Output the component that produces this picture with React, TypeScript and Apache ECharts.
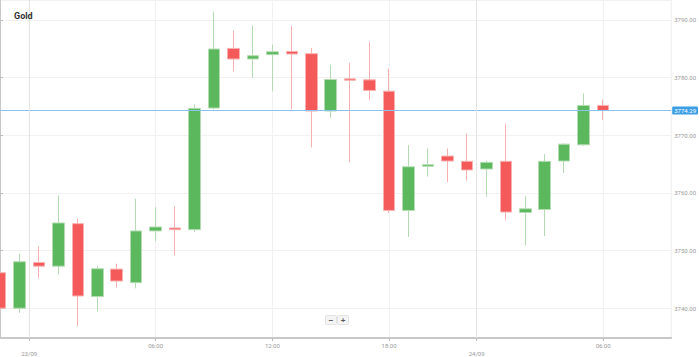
import React, { useEffect, useRef } from "react";
import * as echarts from "echarts";

// Hourly candles (index = slot on the time axis)
const opens = [3746.15, 3740.0, 3747.93, 3747.29, 3754.66, 3742.02, 3746.78, 3744.43, 3753.4, 3753.91, 3753.62, 3774.71, 3785.05, 3783.22, 3783.97, 3784.53, 3784.14, 3774.19, 3779.78, 3779.6, 3777.64, 3756.95, 3764.6, 3766.38, 3765.47, 3764.14, 3765.47, 3756.6, 3757.12, 3765.52, 3768.33, 3775.17];
const closes = [3740.0, 3748.05, 3747.29, 3754.78, 3742.12, 3746.84, 3744.71, 3753.4, 3754.09, 3753.62, 3774.66, 3784.95, 3783.22, 3783.79, 3784.48, 3784.09, 3774.19, 3779.66, 3779.53, 3777.76, 3756.95, 3764.53, 3764.88, 3765.52, 3763.97, 3765.29, 3756.67, 3757.24, 3765.47, 3768.45, 3775.17, 3774.29];
const lows = [3739.7, 3739.19, 3745.17, 3745.86, 3736.84, 3739.43, 3743.57, 3743.45, 3751.6, 3749.19, 3753.22, 3774.48, 3781.09, 3779.95, 3777.64, 3774.48, 3767.88, 3773.05, 3765.29, 3776.09, 3756.5, 3752.36, 3762.81, 3761.84, 3762.12, 3759.36, 3755.22, 3750.91, 3752.53, 3763.45, 3768.16, 3772.64];
const highs = [3746.6, 3749.43, 3750.74, 3759.53, 3755.52, 3747.36, 3747.71, 3758.97, 3757.53, 3757.71, 3775.34, 3791.43, 3788.16, 3789.02, 3785.69, 3788.97, 3785.12, 3782.24, 3782.53, 3786.21, 3781.55, 3768.28, 3767.71, 3767.71, 3770.29, 3765.57, 3772.02, 3759.43, 3766.72, 3768.62, 3777.24, 3776.21];

const currentPrice = 3774.29;

// Time-axis tick labels and their positions (in candle slots)
const xTickPositions = [1.5, 8, 14, 20, 24.5, 31];
const xTickLabels = ["23/09", "06:00", "12:00", "18:00", "24/09", "06:00"];

const xMin = 0;
const xMax = 34.5;
const yMin = 3734.83;
const yMax = 3793.45;

export default function App() {
  const ref = useRef<HTMLDivElement>(null);

  useEffect(() => {
    if (!ref.current) return;
    const chart = echarts.init(ref.current, undefined, { renderer: "svg" });

    const candleData = opens.map((o, i) => [i, o, closes[i], lows[i], highs[i]]);

    // half-slot categories for the label axis
    const cats: string[] = [];
    for (let v = xMin; v <= xMax + 1e-9; v += 0.5) cats.push(String(v));
    const lookup: Record<string, string> = {};
    xTickPositions.forEach((p, i) => {
      const lab = xTickLabels[i];
      lookup[String(p)] = lab.includes("/") ? "\n" + lab : lab;
    });
    const isTick = (_i: number, v: string) => lookup[v] !== undefined;

    const dateLines = xTickPositions
      .map((p, i) => ({ p, lab: xTickLabels[i] }))
      .filter((d) => d.lab.includes("/"))
      .map((d) => ({
        xAxis: d.p,
        lineStyle: { color: "#e4e4e4", width: 1, type: "solid" },
        label: { show: false },
      }));

    chart.setOption({
      animation: false,
      backgroundColor: "#ffffff",
      title: {
        text: "Gold",
        left: 9,
        top: 6,
        textStyle: { fontSize: 9, fontWeight: "bold", color: "#333", fontFamily: "Roboto" },
      },
      grid: {
        left: 0,
        right: 23,
        top: 0,
        bottom: 17,
        show: true,
        borderColor: "#ececec",
        borderWidth: 1,
      },
      xAxis: [
        {
          type: "value",
          min: xMin,
          max: xMax,
          show: false,
        },
        {
          type: "category",
          data: cats,
          boundaryGap: false,
          position: "bottom",
          axisLine: { show: true, lineStyle: { color: "#c8c8c8", width: 2 } },
          axisTick: {
            show: true,
            interval: isTick,
            length: 3,
            lineStyle: { color: "#bbb" },
          },
          axisLabel: {
            interval: isTick,
            formatter: (v: string) => lookup[v] ?? "",
            fontSize: 6,
            color: "#999",
            margin: 3,
            lineHeight: 8,
            fontFamily: "Roboto",
          },
          splitLine: {
            show: true,
            interval: isTick,
            lineStyle: { color: "#f1f1f1", width: 1 },
          },
        },
      ],
      yAxis: {
        type: "value",
        position: "right",
        min: yMin,
        max: yMax,
        splitNumber: 6,
        axisLine: { show: true, lineStyle: { color: "#c8c8c8", width: 2 } },
        axisTick: { show: true, length: 3, lineStyle: { color: "#bbb" } },
        axisLabel: {
          fontSize: 6,
          color: "#999",
          margin: 3,
          showMinLabel: false,
          showMaxLabel: false,
          formatter: (v: number) => v.toFixed(2),
          fontFamily: "Roboto",
        },
        splitLine: { show: true, lineStyle: { color: "#f1f1f1", width: 1 } },
      },
      series: [
        {
          type: "candlestick",
          xAxisIndex: 0,
          yAxisIndex: 0,
          data: candleData,
          encode: { x: 0, y: [1, 2, 3, 4] },
          barWidth: 12,
          clip: true,
          itemStyle: {
            color: "#5cb85c",
            color0: "#f55a5a",
            borderColor: "#b3dcb3",
            borderColor0: "#f9b0b0",
            borderWidth: 1,
          },
          markLine: {
            silent: true,
            symbol: ["none", "none"],
            animation: false,
            data: [
              {
                yAxis: currentPrice,
                lineStyle: { color: "#8cc3ee", width: 1, type: "solid" },
                label: {
                  show: true,
                  position: "end",
                  formatter: () => currentPrice.toFixed(2),
                  color: "#fff",
                  backgroundColor: "#3c9fe6",
                  fontSize: 6,
                  padding: [1, 2, 1, 2],
                  borderRadius: 1,
                  distance: 1,
                  fontFamily: "Roboto",
                },
              },
              ...dateLines,
            ],
          },
        },
      ],
      graphic: [
        {
          type: "group",
          left: 325,
          top: 315,
          children: [
            { type: "rect", shape: { x: 0, y: 0, width: 11, height: 9, r: 1 }, style: { fill: "#f4f4f4", stroke: "#e2e2e2" } },
            { type: "rect", shape: { x: 12, y: 0, width: 11, height: 9, r: 1 }, style: { fill: "#f4f4f4", stroke: "#e2e2e2" } },
            { type: "text", x: 5.5, y: 4.5, style: { text: "−", fill: "#555", fontSize: 8, fontWeight: "bold", align: "center", verticalAlign: "middle" } },
            { type: "text", x: 17.5, y: 4.5, style: { text: "+", fill: "#555", fontSize: 8, fontWeight: "bold", align: "center", verticalAlign: "middle" } },
          ],
        },
      ],
    });

    return () => chart.dispose();
  }, []);

  return (
    <div
      ref={ref}
      style={{ position: "fixed", left: 0, top: 0, width: 699, height: 357 }}
    />
  );
}
